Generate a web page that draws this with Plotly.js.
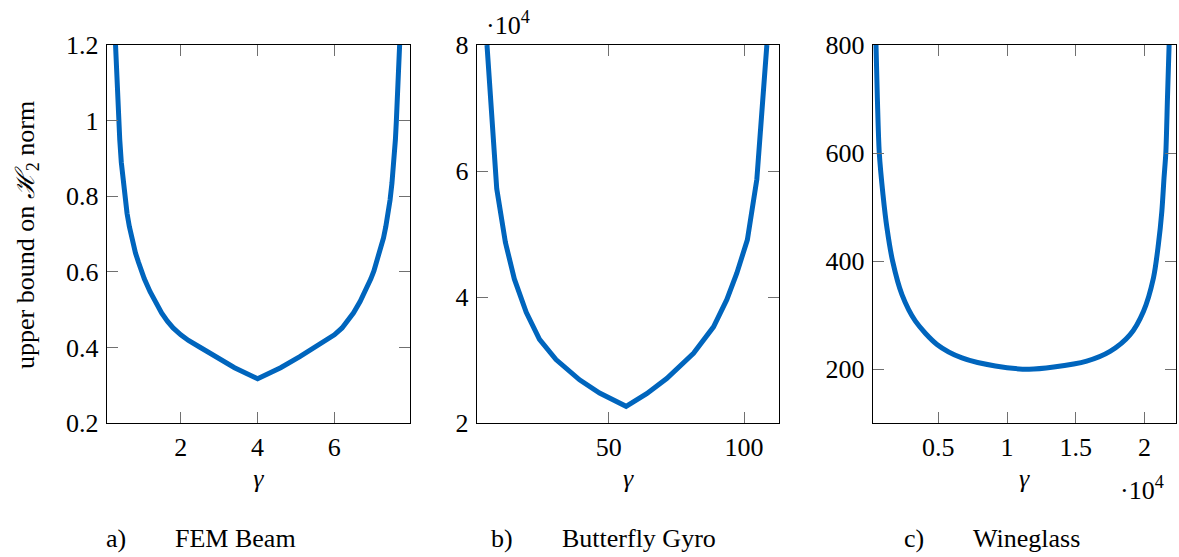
<!DOCTYPE html>
<html>
<head>
<meta charset="utf-8">
<script src="https://cdn.plot.ly/plotly-3.0.1.min.js"></script>
<style>html,body{margin:0;padding:0;background:#fff;}#chart{width:1179px;height:557px;}</style>
</head>
<body>
<div id="chart"></div>
<script>
// Panel a) FEM Beam
const femGamma = [0.30,0.333,0.385,0.41,0.45,0.5,0.55,0.6,0.66,0.72,0.82,0.9,0.97,1.05,1.2,1.33,1.5,1.65,1.8,2.0,2.2,2.5,2.9,3.4,4.0,4.6,5.1,5.5,5.8,6.0,6.2,6.35,6.5,6.67,6.8,6.95,7.03,7.1,7.18,7.28,7.34,7.4,7.45,7.5,7.55,7.59,7.615,7.667,7.70];
const femBound = [1.2,1.11,1.0,0.95,0.89,0.835,0.79,0.755,0.72,0.69,0.65,0.625,0.603,0.582,0.548,0.522,0.492,0.47,0.452,0.434,0.419,0.401,0.376,0.347,0.318,0.347,0.376,0.401,0.419,0.434,0.452,0.47,0.492,0.522,0.548,0.582,0.603,0.625,0.65,0.69,0.72,0.755,0.79,0.835,0.89,0.95,1.0,1.11,1.2];
// Panel b) Butterfly Gyro
const gyroGamma = [5.0,8.6,11.8,15.1,19.5,24.4,30.5,39.2,46.6,56.4,64,71.4,81.3,88.7,93.6,97.3,101.2,104.7,108.4];
const gyroBound = [80000,57200,48700,42900,37600,33300,30100,26900,24800,22700,24700,27100,31100,35300,39600,43800,49100,58700,80000];
// Panel c) Wineglass
const wineGamma = [460,560,700,970,1260,1670,2350,3330,4900,6720,9150,11580,13400,15800,17500,18960,19930,20660,21020,21270,21430,21560,21680,21800];
const wineBound = [800,701,600,523,461,400,338,289,246,221,206,200,204,215,233,264,307,369,431,492,554,600,701,800];

const xTitle = "γ";
const yTitle = "upper bound on <i>ℋ</i><sub>2</sub> norm";
const captionLetters = ["a)","b)","c)"];
const captionNames = ["FEM Beam","Butterfly Gyro","Wineglass"];
const exponentLabel = "·10<sup>4</sup>";

const xTicksA = [2,4,6];
const yTicksA = [0.2,0.4,0.6,0.8,1,1.2];
const yTicksAText = ["0.2","0.4","0.6","0.8","1","1.2"];
const xTicksB = [50,100];
const yTicksB = [20000,40000,60000,80000];
const yTicksBText = ["2","4","6","8"];
const xTicksC = [5000,10000,15000,20000];
const xTicksCText = ["0.5","1","1.5","2"];
const yTicksC = [200,400,600,800];

const W = 1179, H = 557;
const blue = "#0065BD";
const FAMILY = "Liberation Serif, Times New Roman, serif";
function mkFont(){ return {family: FAMILY, size: 26, color: "#000"}; }
function mkLine(shape){ return {color: blue, width: 5, shape: shape || "linear", smoothing: 0.8}; }

const traces = [
  {x: femGamma, y: femBound, type: "scatter", mode: "lines", line: mkLine(), xaxis: "x", yaxis: "y", hoverinfo: "skip"},
  {x: gyroGamma, y: gyroBound, type: "scatter", mode: "lines", line: mkLine(), xaxis: "x2", yaxis: "y2", hoverinfo: "skip"},
  {x: wineGamma, y: wineBound, type: "scatter", mode: "lines", line: mkLine("spline"), xaxis: "x3", yaxis: "y3", hoverinfo: "skip"}
];

function px(x){return x/W;}
function py(y){return 1 - y/H;}

const yDom = [py(423.3), py(45)];
function axisBase(extra){
  return Object.assign({
    showline: true, linecolor: "#000", linewidth: 1, mirror: "ticks",
    ticks: "inside", ticklen: 11, tickwidth: 1, tickcolor: "#707070",
    showgrid: false, zeroline: false, tickfont: mkFont(), automargin: false, fixedrange: true
  }, extra);
}
function ann(text, x, y, xanchor, extra){
  return Object.assign({text: text, xref: "paper", yref: "paper", x: px(x), y: py(y), showarrow: false,
    font: mkFont(), xanchor: xanchor, yanchor: "middle"}, extra || {});
}

const layout = {
  width: W, height: H,
  margin: {l: 0, r: 0, t: 0, b: 0},
  paper_bgcolor: "#fff", plot_bgcolor: "#fff",
  showlegend: false,
  font: mkFont(),
  xaxis: axisBase({domain: [px(106.7), px(410)], range: [0.07, 7.97], tickvals: xTicksA, anchor: "y",
    title: {text: "<i>" + xTitle + "</i>", font: mkFont(), standoff: 8}, ticklabelstandoff: 0}),
  yaxis: axisBase({domain: yDom, range: [0.2, 1.2], tickvals: yTicksA, ticktext: yTicksAText, anchor: "x", ticklabelstandoff: 2}),
  xaxis2: axisBase({domain: [px(476.7), px(779.3)], range: [1.2, 113], tickvals: xTicksB, anchor: "y2",
    title: {text: "<i>" + xTitle + "</i>", font: mkFont(), standoff: 8}, ticklabelstandoff: 0}),
  yaxis2: axisBase({domain: yDom, range: [20000, 80000], tickvals: yTicksB, ticktext: yTicksBText, anchor: "x2", ticklabelstandoff: 2}),
  xaxis3: axisBase({domain: [px(872.7), px(1175.7)], range: [220, 22280], tickvals: xTicksC, ticktext: xTicksCText, anchor: "y3",
    title: {text: "<i>" + xTitle + "</i>", font: mkFont(), standoff: 8}, ticklabelstandoff: 0}),
  yaxis3: axisBase({domain: yDom, range: [100, 800], tickvals: yTicksC, anchor: "x3", ticklabelstandoff: 2}),
  annotations: [
    ann(yTitle, 27, 235, "center", {textangle: -90}),
    ann(exponentLabel, 484, 24, "left"),
    ann(exponentLabel, 1118, 489, "left"),
    ann(captionLetters[0], 104, 538, "left"),
    ann(captionNames[0], 173, 538, "left"),
    ann(captionLetters[1], 489, 538, "left"),
    ann(captionNames[1], 560, 538, "left"),
    ann(captionLetters[2], 902, 538, "left"),
    ann(captionNames[2], 971, 538, "left")
  ]
};

Plotly.newPlot("chart", traces, layout, {staticPlot: true, displayModeBar: false});
</script>
</body>
</html>
